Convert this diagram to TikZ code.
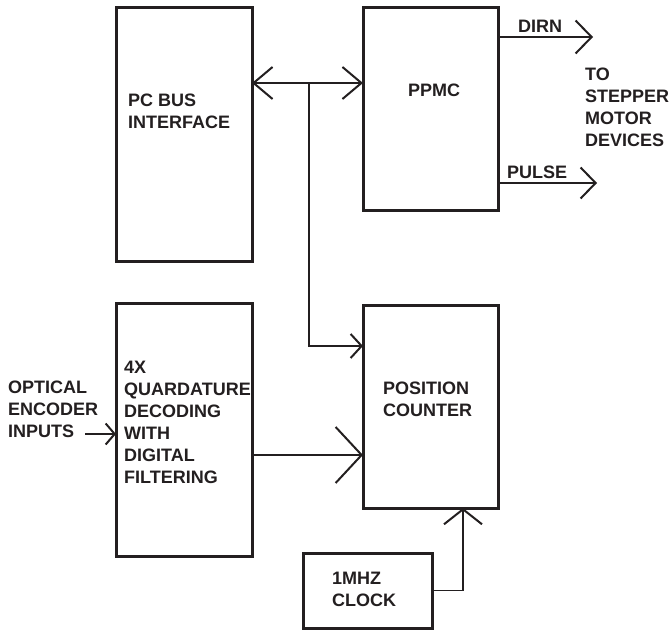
\documentclass[tikz,border=0pt]{standalone}
\usepackage{fontspec}
\setmainfont{Liberation Sans}
\usetikzlibrary{arrows.meta,calc}
\definecolor{ink}{RGB}{35,31,32}
\begin{document}
\begin{tikzpicture}[x=1pt,y=-1pt,
  blockbox/.style={draw=ink,line width=3pt,minimum width=#1,inner sep=0pt,outer sep=0pt},
  txt/.style={anchor=north west,inner sep=0pt,align=left,text=ink,font=\bfseries\fontsize{18}{22}\selectfont},
  conn/.style={draw=ink,line width=1.8pt},
  barb/.style n args={2}{-{Straight Barb[length=#1pt,width=#2pt,line width=2pt]}}
]
\useasboundingbox[fill=white] (0,0) rectangle (671,631);

% blocks
\node[blockbox=136pt,minimum height=253pt] (pcbus) at (184,134.5) {};
\node[blockbox=135pt,minimum height=202pt] (ppmc) at (430.5,109) {};
\node[blockbox=136pt,minimum height=253pt] (quad) at (184,429.5) {};
\node[blockbox=135pt,minimum height=203pt] (pos) at (430.5,406.5) {};
\node[blockbox=129pt,minimum height=75pt] (clock) at (367.5,590.5) {};

% texts
\node[txt] (tpcbus) at (128,93.5) {PC BUS\\INTERFACE};
\node[txt] (tppmc) at (408,83.5) {PPMC};
\node[txt] (tdirn) at (518,19.5) {DIRN};
\node[txt] (tpulse) at (507,165.5) {PULSE};
\node[txt] (tto) at (585,67.5) {TO\\STEPPER\\MOTOR\\DEVICES};
\node[txt] (topt) at (8,380.5) {OPTICAL\\ENCODER\\INPUTS};
\node[txt] (tquad) at (124,360.5) {4X\\QUARDATURE\\DECODING\\WITH\\DIGITAL\\FILTERING};
\node[txt] (tpos) at (383,381.5) {POSITION\\COUNTER};
\node[txt] (tclock) at (332,571.5) {1MHZ\\CLOCK};

% coordinates
\coordinate (bj) at (309,83);
\coordinate (dirnend) at (593,37);
\coordinate (pulseend) at (597,183);
\coordinate (optstart) at (85,434);
\coordinate (qy) at (0,455);
\coordinate (py) at (0,346);
\coordinate (cx) at (463,0);

% connectors
\draw[conn,{Straight Barb[length=19pt,width=32pt,line width=2pt]}-{Straight Barb[length=19pt,width=32pt,line width=2pt]}] (bj -| pcbus.east) -- (bj -| ppmc.west);
\draw[conn,barb={11}{24}] (bj) |- (py -| pos.west);
\draw[conn,barb={16}{33}] (dirnend -| ppmc.east) -- (dirnend);
\draw[conn,barb={15}{31}] (pulseend -| ppmc.east) -- (pulseend);
\draw[conn,barb={26}{56}] (qy -| quad.east) -- (qy -| pos.west);
\draw[conn,barb={9}{21}] (optstart) -- (optstart -| quad.west);
\draw[conn,barb={15}{38}] (clock.east) -| (cx |- pos.south);
\end{tikzpicture}
\end{document}
